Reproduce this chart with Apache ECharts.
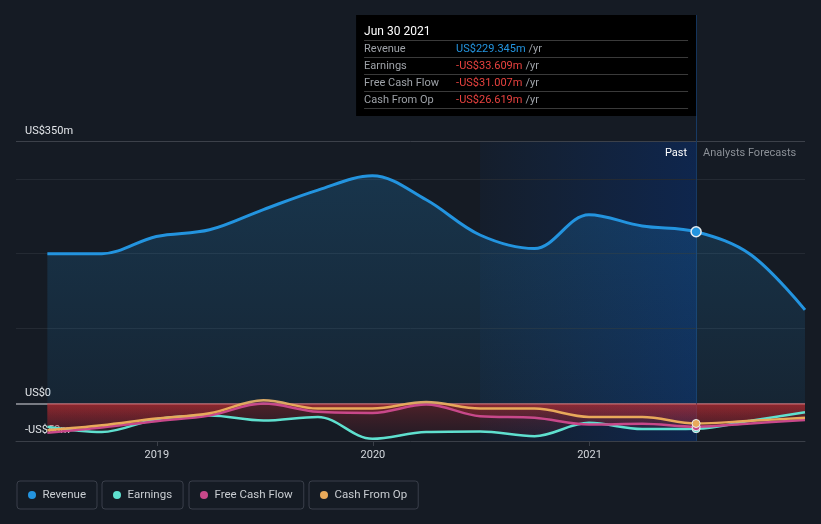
<!DOCTYPE html>
<html>
<head>
<meta charset="utf-8">
<script src="https://cdn.jsdelivr.net/npm/echarts@6/dist/echarts.min.js"></script>
<style>
html,body{margin:0;padding:0;background:#151b24;}
#c{width:821px;height:524px;}
</style>
</head>
<body>
<div id="c"></div>
<script>
// ---- data (US$ millions) ----
const pastDates = ['2018-06-30','2018-09-30','2018-12-31','2019-03-31','2019-06-30','2019-09-30','2019-12-31','2020-03-31','2020-06-30','2020-09-30','2020-12-31','2021-03-31','2021-06-30'];
const forecastDates = ['2021-09-30','2021-12-31'];
const revenue = [200, 200, 223, 232, 259, 285, 304, 272, 225, 207, 252, 237, 229.345];
const revenueForecast = [199, 125];
const earnings = [-31, -38, -21, -16, -22.7, -17.8, -47, -38, -37.3, -43.5, -25.8, -34, -33.609];
const earningsForecast = [-23, -11.6];
const freeCashFlow = [-39, -32, -23.5, -16, 0, -11, -12.5, -1.3, -17, -19, -28, -27, -31.007];
const freeCashFlowForecast = [-26.5, -22];
const cashFromOp = [-35.5, -29, -20, -13, 4.4, -6.7, -6.7, 2, -6.7, -6.7, -17.8, -17.8, -26.619];
const cashFromOpForecast = [-23, -19];
const yearTicks = ['2019-01-01','2020-01-01','2021-01-01'];
const axisStart = '2018-05-08';
const axisEnd = '2021-12-31';
const gridValues = [100, 200, 300];
const topValue = 350;
const bottomValue = -50;
const pastStart = '2020-06-30';
const pastEnd = '2021-06-30';
const tooltipTitle = 'Jun 30 2021';
const tooltipRows = [
  ['Revenue', 'US$229.345m', '#2394df'],
  ['Earnings', '-US$33.609m', '#e8423f'],
  ['Free Cash Flow', '-US$31.007m', '#e8423f'],
  ['Cash From Op', '-US$26.619m', '#e8423f']
];

const COLORS = {Revenue:'#2394df', Earnings:'#5fe0cf', 'Free Cash Flow':'#c8488a', 'Cash From Op':'#e8a95a'};
const FONT = 'Roboto, "Noto Sans", sans-serif';
const T = (d) => Date.parse(d + 'T00:00:00Z');

function build(past, fc, color, isRev){
  const all = past.concat(fc);
  const ds = pastDates.concat(forecastDates);
  return all.map((v,i)=>{
    if (ds[i] === pastEnd) {
      return {value:[T(ds[i]), v], symbol:'circle', symbolSize: isRev ? 10 : 8,
        itemStyle:{color:color, borderColor:'#e8ecf0', borderWidth: isRev ? 1.5 : 1}};
    }
    return {value:[T(ds[i]), v], symbol:'none'};
  });
}

const chart = echarts.init(document.getElementById('c'));

function lineSeries(name, past, fc, isRev){
  const color = COLORS[name];
  return {
    name, type:'line', smooth:0.35, symbol:'none',
    data: build(past, fc, color, isRev),
    lineStyle:{color, width: isRev ? 3 : 2.5},
    itemStyle:{color},
    z: isRev ? 5 : 4,
    areaStyle: isRev ? {
      origin: 0,
      color: new echarts.graphic.LinearGradient(0,0,0,1,[
        {offset:0,color:'rgba(35,148,223,0.3)'},
        {offset:1,color:'rgba(35,148,223,0.12)'}])
    } : {
      origin: 0,
      color: new echarts.graphic.LinearGradient(0,0,0,1,[
        {offset:0,color:'rgba(205,48,52,0.45)'},
        {offset:1,color:'rgba(150,30,45,0.15)'}])
    },
    emphasis:{disabled:true}
  };
}

const lbl = (t)=>({show:true, formatter:t, position:'insideStartTop', distance:[9,5], color:'#e2e5e9', fontSize:11, fontFamily:FONT});
const hLines = [];
gridValues.forEach(v=>hLines.push({yAxis:v, lineStyle:{color:'#242a33', width:1, type:'solid'}, label:{show:false}}));
hLines.push({yAxis:topValue, lineStyle:{color:'#3c414a', width:1, type:'solid'}, label:lbl('US$350m')});
hLines.push({yAxis:0, lineStyle:{color:'#9a9da3', width:1.5, type:'solid'}, label:lbl('US$0')});
hLines.push({yAxis:bottomValue, lineStyle:{color:'rgba(0,0,0,0)', width:0}, label:lbl('-US$50m')});
hLines.push({xAxis:T(pastEnd), lineStyle:{color:'#173a64', width:1, type:'solid'}, label:{show:false}});

const legendNames = ['Revenue','Earnings','Free Cash Flow','Cash From Op'];
const legendLefts = [17, 102, 189, 309];
const tickVals = yearTicks.map(T);

const option = {
  backgroundColor:'#151b24',
  animation:false,
  textStyle:{fontFamily:FONT},
  grid:{left:16, right:16, top:15, bottom:83},
  xAxis:{
    type:'value', min:T(axisStart), max:T(axisEnd), scale:true,
    axisLine:{show:true, onZero:false, lineStyle:{color:'#3a3f48', width:1}},
    axisTick:{show:true, customValues: tickVals, length:5, lineStyle:{color:'#3a3f48'}},
    axisLabel:{show:true, customValues: tickVals, color:'#d4d8dd', fontSize:11, margin:9,
      formatter:(v)=>String(new Date(v).getUTCFullYear())},
    splitLine:{show:false}
  },
  yAxis:{
    type:'value', min:bottomValue, max:518.7,
    axisLine:{show:false}, axisTick:{show:false}, axisLabel:{show:false}, splitLine:{show:false}
  },
  legend: legendNames.map((n,i)=>({
    data:[n], left:legendLefts[i], top:481, orient:'horizontal',
    icon:'circle', itemWidth:11, itemHeight:8, itemGap:0,
    padding:[8,11,8,11], borderColor:'#3a3f4a', borderWidth:1, borderRadius:3,
    textStyle:{color:'#c9cdd2', fontSize:11.5, fontFamily:FONT, lineHeight:11},
    selectedMode:false
  })),
  series:[
    Object.assign(lineSeries('Revenue', revenue, revenueForecast, true), {
      markLine:{silent:true, symbol:'none', data:hLines, z:1},
      markArea:{silent:true, z:0, data:[[
        {xAxis:T(pastStart), yAxis:topValue,
          itemStyle:{color:new echarts.graphic.LinearGradient(0,0,1,0,[
            {offset:0,color:'rgba(16,50,100,0.12)'},
            {offset:1,color:'rgba(10,45,105,0.6)'}])}},
        {xAxis:T(pastEnd), yAxis:bottomValue}
      ]]}
    }),
    lineSeries('Earnings', earnings, earningsForecast, false),
    lineSeries('Free Cash Flow', freeCashFlow, freeCashFlowForecast, false),
    lineSeries('Cash From Op', cashFromOp, cashFromOpForecast, false)
  ]
};
chart.setOption(option);

// overlay texts positioned from the axes
const xEnd = chart.convertToPixel({xAxisIndex:0}, T(pastEnd));
const yTop = chart.convertToPixel({yAxisIndex:0}, topValue);
const boxW = 340, boxH = 101, boxTop = 15;
const boxLeft = xEnd - boxW;
const g = [];
g.push({type:'rect', shape:{x:boxLeft, y:boxTop, width:boxW, height:boxH}, style:{fill:'#000000'}, z:100});
g.push({type:'text', x:boxLeft+8, y:boxTop+17, style:{text:tooltipTitle, fill:'#ffffff', fontSize:12, fontFamily:FONT, verticalAlign:'middle'}, z:101});
tooltipRows.forEach((r,i)=>{
  const yc = boxTop + 34 + i*17;
  g.push({type:'line', shape:{x1:boxLeft+8, y1:yc-8.5, x2:xEnd-8, y2:yc-8.5}, style:{stroke:'#3a3a3a', lineWidth:1}, z:101});
  g.push({type:'text', x:boxLeft+8, y:yc, style:{text:r[0], fill:'#9ea2a8', fontSize:11, fontFamily:FONT, verticalAlign:'middle'}, z:101});
  g.push({type:'text', x:boxLeft+100, y:yc, style:{
    text:'{v|'+r[1]+'} {u|/yr}', verticalAlign:'middle', fontFamily:FONT,
    rich:{v:{fill:r[2], fontSize:11, fontFamily:FONT}, u:{fill:'#9ea2a8', fontSize:11, fontFamily:FONT}}}, z:101});
});
g.push({type:'line', shape:{x1:boxLeft+8, y1:boxTop+93.5, x2:xEnd-8, y2:boxTop+93.5}, style:{stroke:'#3a3a3a', lineWidth:1}, z:101});
g.push({type:'text', x:xEnd-9, y:yTop+12, style:{text:'Past', fill:'#ffffff', fontSize:11, fontFamily:FONT, align:'right', verticalAlign:'middle'}, z:50});
g.push({type:'text', x:xEnd+7, y:yTop+12, style:{text:'Analysts Forecasts', fill:'#8b9097', fontSize:11, fontFamily:FONT, align:'left', verticalAlign:'middle'}, z:50});
chart.setOption({graphic:g});
</script>
</body>
</html>
